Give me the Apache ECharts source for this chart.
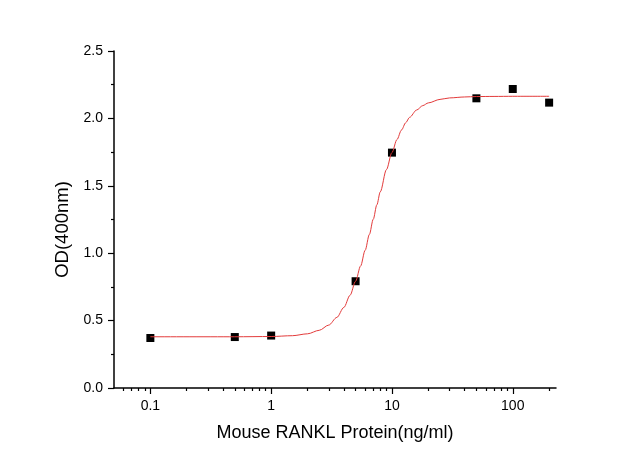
<!DOCTYPE html>
<html>
<head>
<meta charset="utf-8">
<script src="https://cdn.jsdelivr.net/npm/echarts@6/dist/echarts.min.js"></script>
<style>
  html, body { margin: 0; padding: 0; background: #fff; }
  #main { width: 644px; height: 465px; }
</style>
</head>
<body>
<div id="main"></div>
<script>
// measured points
var conc = [0.1, 0.5, 1, 5, 10, 50, 100, 200];
var od = [0.371, 0.378, 0.389, 0.792, 1.746, 2.149, 2.218, 2.117];

// fitted curve
var curveX = [0.1, 0.5, 1, 1.5, 2, 2.5, 3, 3.5, 4, 4.5, 5, 5.5, 6, 6.5, 7, 7.5, 8, 9, 10,
  11, 12, 13, 14, 16, 18, 20, 25, 30, 40, 50, 70, 100, 200];
var curveY = [0.380, 0.380, 0.382, 0.388, 0.402, 0.428, 0.467, 0.524, 0.598, 0.688, 0.792,
  0.905, 1.022, 1.139, 1.252, 1.359, 1.455, 1.620, 1.747, 1.843, 1.914, 1.968, 2.008,
  2.062, 2.095, 2.115, 2.141, 2.152, 2.159, 2.162, 2.163, 2.164, 2.164];

var xMajor = [0.1, 1, 10, 100];
var xMinor = [0.06, 0.07, 0.08, 0.09, 0.2, 0.3, 0.4, 0.5, 0.6, 0.7, 0.8, 0.9,
  2, 3, 4, 5, 6, 7, 8, 9, 20, 30, 40, 50, 60, 70, 80, 90, 200];

var font = 'Liberation Sans, Arial, sans-serif';
var chart = echarts.init(document.getElementById('main'));

var option = {
  backgroundColor: '#ffffff',
  animation: false,
  grid: { left: 114, right: 88, top: 51, bottom: 77, containLabel: false, outerBoundsMode: 'none' },
  xAxis: [{
    type: 'log',
    logBase: 10,
    min: 0.05,
    max: 228,
    name: 'Mouse RANKL Protein(ng/ml)',
    nameLocation: 'middle',
    nameGap: 36,
    nameTextStyle: { fontFamily: font, fontSize: 18, color: '#000' },
    axisLine: { lineStyle: { color: '#000', width: 1.5 } },
    axisTick: { customValues: xMajor, length: 6, lineStyle: { color: '#000', width: 1.2 } },
    axisLabel: { customValues: xMajor, margin: 11, fontFamily: font, fontSize: 14, color: '#000' },
    splitLine: { show: false }
  }, {
    type: 'log',
    logBase: 10,
    min: 0.05,
    max: 228,
    position: 'bottom',
    axisLine: { show: false },
    axisTick: { customValues: xMinor, length: 3, lineStyle: { color: '#000', width: 1.2 } },
    axisLabel: { show: false },
    splitLine: { show: false }
  }],
  yAxis: {
    type: 'value',
    min: 0,
    max: 2.5,
    interval: 0.5,
    name: 'OD(400nm)',
    nameLocation: 'middle',
    nameGap: 41,
    nameTextStyle: { fontFamily: font, fontSize: 18.5, color: '#000', padding: [0, 20, 0, 0] },
    axisLine: { show: true, lineStyle: { color: '#000', width: 1.5 } },
    axisTick: { show: true, length: 6, lineStyle: { color: '#000', width: 1.2 } },
    minorTick: { show: true, splitNumber: 2, length: 3, lineStyle: { color: '#000', width: 1.2 } },
    axisLabel: {
      margin: 11, fontFamily: font, fontSize: 14, color: '#000',
      formatter: function (v) { return v.toFixed(1); }
    },
    splitLine: { show: false }
  },
  series: [{
    type: 'scatter',
    data: conc.map(function (c, i) { return [c, od[i]]; }),
    symbol: 'rect',
    symbolSize: 8,
    itemStyle: { color: '#000', opacity: 1 },
    z: 2
  }, {
    type: 'line',
    data: curveX.map(function (c, i) { return [c, curveY[i]]; }),
    showSymbol: false,
    smooth: 0.3,
    smoothMonotone: 'x',
    lineStyle: { color: '#e33b3b', width: 1 },
    z: 3
  }]
};
chart.setOption(option);
</script>
</body>
</html>
